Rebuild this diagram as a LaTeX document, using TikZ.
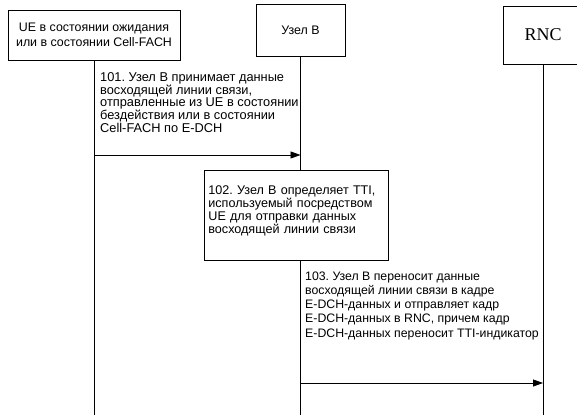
\documentclass[tikz,border=0pt]{standalone}
\usepackage{fontspec}
\setmainfont{Liberation Sans}
\newfontfamily\rncfont{Liberation Serif}
\usetikzlibrary{arrows.meta, positioning, calc}
\frenchspacing
\tikzset{
  %% ---- boxes ----
  actor/.style   = {rectangle, draw, line width=0.8pt, fill=white,
                    align=center, inner sep=2pt,
                    font=\fontsize{12.4}{15.5}\selectfont},
  stepbox/.style = {rectangle, draw, line width=0.8pt, fill=white,
                    text width=#1, align=left, inner sep=4pt,
                    font=\fontsize{12.6}{12.9}\selectfont},
  stepbox/.default = 176pt,
  msgtext/.style = {anchor=north west, align=left, inner sep=0pt,
                    font=\fontsize{12.3}{#1}\selectfont},
  msgtext/.default = 14.2pt,
  %% ---- lines ----
  lifeline/.style = {line width=0.8pt},
  msg/.style      = {-{Triangle[length=10pt,width=7pt]}, line width=0.8pt},
}
\begin{document}
\begin{tikzpicture}[x=1pt, y=-1pt]
\useasboundingbox (0,0) rectangle (577,419);
% participants
\node[actor, minimum width=172pt, minimum height=50pt] (ue)    at (94,35)
  {UE в состоянии ожидания\\или в состоянии Cell-FACH};
\node[actor, minimum width=89pt,  minimum height=52pt] (nodeb) at (300.5,30) {Узел В};
\node[actor, minimum width=80pt,  minimum height=58pt,
      font=\rncfont\fontsize{18}{20}\selectfont]      (rnc)   at (543,35) {RNC};
% lifelines
\coordinate (ueend)    at (ue    |- 0,415);
\coordinate (nodebend) at (nodeb |- 0,415);
\coordinate (rncend)   at (rnc   |- 0,415);
\draw[lifeline] (ue)    -- (ueend);
\draw[lifeline] (nodeb) -- (nodebend);
\draw[lifeline] (rnc)   -- (rncend);
% 101
\node[msgtext=12.9pt, font=\fontsize{12.8}{12.9}\selectfont] (t101) at (100,72)
  {101. Узел В принимает данные\\
   восходящей линии связи,\\
   отправленные из UE в состоянии\\
   бездействия или в состоянии\\
   Cell-FACH по E-DCH};
\coordinate (m101a) at (ue    |- 0,155);
\coordinate (m101b) at (nodeb |- 0,155);
\draw[msg] (m101a) -- (m101b);
% 102
\node[stepbox, text height=20.5pt, text depth=61.5pt, anchor=north west] (s102) at (204,170)
  {102. Узел В определяет TTI,\\
   используемый посредством\\
   UE для отправки данных\\
   восходящей линии связи};
% 103
\node[msgtext] (t103) at (305,271.5)
  {103. Узел В переносит данные\\
   восходящей линии связи в кадре\\
   E-DCH-данных и отправляет кадр\\
   E-DCH-данных в RNC, причем кадр\\
   E-DCH-данных переносит TTI-индикатор};
\coordinate (m103a) at (nodeb |- 0,383);
\coordinate (m103b) at (rnc   |- 0,383);
\draw[msg] (m103a) -- (m103b);
\end{tikzpicture}
\end{document}
